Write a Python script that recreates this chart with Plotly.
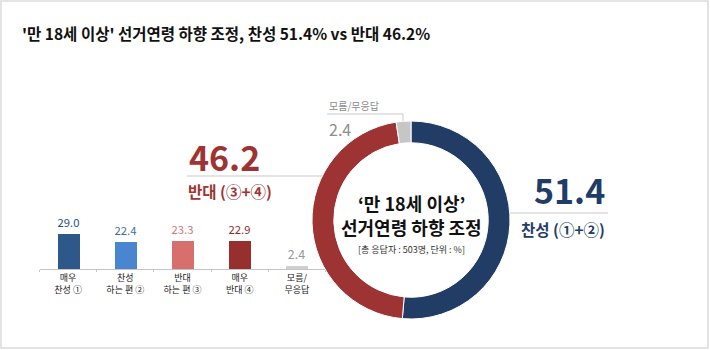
import plotly.graph_objects as go

W, H = 710, 350

# Survey result: breakdown by answer
categories = ["매우<br>찬성 ①", "찬성<br>하는 편 ②", "반대<br>하는 편 ③", "매우<br>반대 ④", "모름/<br>무응답"]
values = [29.0, 22.4, 23.3, 22.9, 2.4]
bar_colors = ["#2d5889", "#4a86cf", "#d76f6d", "#962f2e", "#cfcfcf"]
label_colors = ["#2a4f7a", "#3f6e9e", "#d07a78", "#8f2e2e", "#9a9a9a"]

# Summary: favour / oppose / no answer
donut_labels = ["찬성", "반대", "모름/무응답"]
donut_values = [51.4, 46.2, 2.4]
donut_colors = ["#213d66", "#9e3333", "#c6c6c6"]

FONT = "Noto Sans CJK KR"
BLUE = "#213d66"
RED = "#9e3333"
GREY = "#8c8c8c"
LINE = "#c9c9c9"


def px(x):
    return x / W


def py(y):
    return 1 - y / H


fig = go.Figure()

# Bars on a category axis
fig.add_trace(go.Bar(
    x=categories, y=values,
    marker=dict(color=bar_colors, line=dict(width=0)),
    width=0.385,
    text=[f"{v:.1f}" for v in values],
    textposition="outside",
    textfont=dict(family=FONT, size=12.5, color=label_colors),
    cliponaxis=False,
    hoverinfo="skip",
    xaxis="x", yaxis="y",
))

# Donut
cx, cy, r = 411, 220, 99
fig.add_trace(go.Pie(
    labels=donut_labels, values=donut_values,
    hole=0.78, sort=False, direction="clockwise", rotation=0,
    marker=dict(colors=donut_colors, line=dict(color="white", width=1)),
    textinfo="none", hoverinfo="skip", showlegend=False,
    domain=dict(x=[px(cx - r), px(cx + r)], y=[py(cy + r), py(cy - r)]),
))

x0_bar, x1_bar = 39.5, 325.5
base_y = 269
unit = 1.23
ymax = 40
fig.update_layout(
    width=W, height=H,
    margin=dict(l=0, r=0, t=0, b=0),
    paper_bgcolor="white", plot_bgcolor="rgba(0,0,0,0)",
    showlegend=False,
    bargap=0,
    xaxis=dict(
        domain=[px(x0_bar), px(x1_bar)],
        range=[-0.5, 4.5],
        showline=True, linecolor="#c4c4c4", linewidth=1,
        ticks="outside", tickson="boundaries", ticklen=2, tickcolor="#c4c4c4",
        showgrid=False, zeroline=False,
        tickfont=dict(family=FONT, size=9, color="#222222"),
        fixedrange=True,
    ),
    yaxis=dict(
        domain=[py(base_y), py(base_y - ymax * unit)],
        range=[0, ymax],
        visible=False, showgrid=False, zeroline=False,
        fixedrange=True,
    ),
)

annotations = []


def text(x, y, s, size, color, anchor="left", bold=False, yanchor="middle"):
    if bold:
        s = f"<b>{s}</b>"
    annotations.append(dict(
        x=px(x), y=py(y), xref="paper", yref="paper",
        text=s, showarrow=False, xanchor=anchor, yanchor=yanchor,
        font=dict(family=FONT, size=size, color=color),
    ))


# Title
text(20, 33, "'만 18세 이상' 선거연령 하향 조정, 찬성 51.4% vs 반대 46.2%", 15.5, "#111111", bold=True)

# Donut centre
text(cx, 203, "‘만 18세 이상’", 18, "#111111", anchor="center", bold=True)
text(cx, 227, "선거연령 하향 조정", 18, "#111111", anchor="center", bold=True)
text(cx, 249, "[총 응답자 : 503명, 단위 : %]", 9, "#333333", anchor="center")

# Oppose callout
text(187, 183, f"{donut_values[1]:.1f}", 34, RED, bold=True, yanchor="bottom")
text(186, 178, "반대 (③+④)", 15.5, RED, bold=True, yanchor="top")

# Favour callout
text(607, 216, f"{donut_values[0]:.1f}", 34, BLUE, anchor="right", bold=True, yanchor="bottom")
text(607, 216, "찬성 (①+②)", 15.5, BLUE, anchor="right", bold=True, yanchor="top")

# No answer callout
text(327, 114.5, "모름/무응답", 10, GREY, yanchor="bottom")
text(327, 114.5, f"{donut_values[2]:.1f}", 16, GREY, yanchor="top")

fig.update_layout(annotations=annotations)

shapes = [
    # leader lines
    dict(type="line", x0=px(187), x1=px(322), y0=py(176), y1=py(176), line=dict(color=LINE, width=1)),
    dict(type="line", x0=px(505), x1=px(608), y0=py(213), y1=py(213), line=dict(color=LINE, width=1)),
    dict(type="line", x0=px(327), x1=px(403), y0=py(114), y1=py(114), line=dict(color=LINE, width=1)),
    dict(type="line", x0=px(403), x1=px(403), y0=py(114), y1=py(122), line=dict(color=LINE, width=1)),
    # frame
    dict(type="rect", x0=px(1), x1=px(708), y0=py(348), y1=py(1), line=dict(color="#e4e4e4", width=2)),
]
for s in shapes:
    s.update(xref="paper", yref="paper", layer="below")
fig.update_layout(shapes=shapes)

fig.write_html("out.html")
